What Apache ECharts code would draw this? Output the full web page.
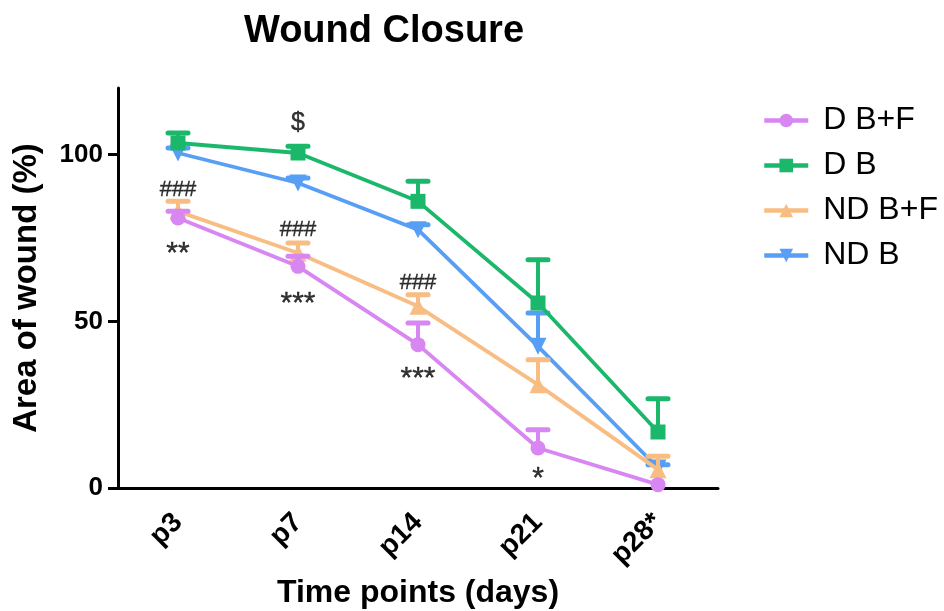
<!DOCTYPE html>
<html><head><meta charset="utf-8">
<script src="https://cdn.jsdelivr.net/npm/echarts@6/dist/echarts.min.js"></script>
<style>html,body{margin:0;padding:0;background:#fff}#c{width:944px;height:611px}</style>
</head><body><div id="c"></div>
<script>
// ---- data ----
const categories = ['p3', 'p7', 'p14', 'p21', 'p28'];
const tickLabels = ['p3', 'p7', 'p14', 'p21', 'p28*'];
const yTicks = [0, 50, 100];
const seriesNames = ['D B+F', 'D B', 'ND B+F', 'ND B'];
const dBF     = [81, 66.5, 43, 12, 1];
const dBF_err = [2, 3, 6.5, 5.5, 0];
const dB      = [103.5, 100.5, 86, 55.5, 16.8];
const dB_err  = [3, 2, 6, 13, 10];
const ndBF     = [83, 70.5, 54.5, 31, 5.5];
const ndBF_err = [3, 3, 3.5, 7.5, 4];
const ndB      = [100.5, 91.5, 77.5, 42.5, 6];
const ndB_err  = [1.5, 1.5, 1.5, 10, 1];
const annoText = ['$', '###', '###', '###', '**', '***', '***', '*'];
const annoCat  = ['p7', 'p3', 'p7', 'p14', 'p3', 'p7', 'p14', 'p21'];
const annoVal  = [109.5, 89.5, 77.5, 61.5, 72.3, 57.3, 34.8, 4.8];

// ---- styling ----
const FONT = "'Liberation Sans', Arial, Helvetica, sans-serif";
const colors = { 'D B+F': '#d886f2', 'D B': '#1bb86c', 'ND B+F': '#f8bd82', 'ND B': '#579ff5' };
const symbols = { 'D B+F': 'circle', 'D B': 'rect', 'ND B+F': 'triangle', 'ND B': 'triangle' };
const rotates = { 'D B+F': 0, 'D B': 0, 'ND B+F': 0, 'ND B': 180 };
const sizes = { 'D B+F': 15, 'D B': 15, 'ND B+F': 17, 'ND B': 17 };
const dataMap = {
  'D B+F': [dBF, dBF_err], 'D B': [dB, dB_err], 'ND B+F': [ndBF, ndBF_err], 'ND B': [ndB, ndB_err]
};
const drawOrder = ['ND B', 'ND B+F', 'D B', 'D B+F'];

function lineSeries(name, z) {
  return {
    type: 'line', name: name, data: dataMap[name][0], z: z,
    symbol: symbols[name], symbolSize: sizes[name], symbolRotate: rotates[name],
    showAllSymbol: true,
    lineStyle: { color: colors[name], width: 3.8 },
    itemStyle: { color: colors[name] },
    emphasis: { disabled: true }, animation: false
  };
}
function errSeries(name, z) {
  const vals = dataMap[name][0], errs = dataMap[name][1], color = colors[name];
  return {
    type: 'custom', name: name + ' (SEM)', z: z, silent: true, animation: false,
    data: vals.map((v, i) => [i, v, v + errs[i]]),
    renderItem: function (params, api) {
      const x = api.value(0);
      const p0 = api.coord([x, api.value(1)]);
      const p1 = api.coord([x, api.value(2)]);
      if (api.value(2) - api.value(1) <= 0) return { type: 'group', children: [] };
      const hw = 10;
      return { type: 'group', children: [
        { type: 'line', shape: { x1: p0[0], y1: p0[1], x2: p1[0], y2: p1[1] }, style: { stroke: color, lineWidth: 4 } },
        { type: 'line', shape: { x1: p1[0] - hw, y1: p1[1], x2: p1[0] + hw, y2: p1[1] }, style: { stroke: color, lineWidth: 5, lineCap: 'round' } }
      ] };
    }
  };
}

const series = [];
drawOrder.forEach((n, k) => { series.push(errSeries(n, 2 + k * 2)); series.push(lineSeries(n, 3 + k * 2)); });

series.push({
  type: 'scatter', name: 'annotations', symbolSize: 0, silent: true, z: 20, animation: false,
  data: annoText.map((t, i) => {
    const star = t.indexOf('*') >= 0;
    return {
      value: [annoCat[i], annoVal[i], t],
      label: {
        show: true, position: 'inside', formatter: p => p.value[2],
        color: '#000', fontFamily: FONT,
        textBorderColor: '#000', textBorderWidth: 0.4,
        fontSize: star ? 30 : (t === '$' ? 25 : 22),
        offset: [0, star ? 7 : 0]
      }
    };
  })
});

const chart = echarts.init(document.getElementById('c'), null, { renderer: 'canvas' });
chart.setOption({
  backgroundColor: '#fff',
  animation: false,
  graphic: [{
    type: 'text', x: 384, y: 32,
    style: { text: 'Wound Closure', font: 'bold 38px ' + FONT, fill: '#000', align: 'center', verticalAlign: 'middle' }
  }],
  legend: {
    orient: 'vertical', left: 757, top: 99,
    data: seriesNames,
    itemWidth: 44, itemHeight: 17, itemGap: 12,
    lineStyle: { width: 4.5 },
    textStyle: { fontSize: 32, fontFamily: FONT, color: '#000', lineHeight: 33, padding: [0, 0, 0, 10] },
    selectedMode: false
  },
  grid: { left: 118, top: 88, width: 600, height: 400, containLabel: false, outerBoundsMode: 'none' },
  xAxis: {
    type: 'category', data: categories, boundaryGap: true,
    name: 'Time points (days)', nameLocation: 'middle', nameGap: 86,
    nameTextStyle: { fontSize: 32, fontWeight: 'bold', fontFamily: FONT, color: '#000' },
    axisLine: { lineStyle: { color: '#000', width: 3 } },
    axisTick: { alignWithLabel: true, length: 12, lineStyle: { color: '#000', width: 3 } },
    axisLabel: {
      rotate: 45, margin: 30, fontSize: 28, fontWeight: 'bold', fontFamily: FONT, color: '#000',
      formatter: (v, i) => tickLabels[i]
    },
    splitLine: { show: false }
  },
  yAxis: {
    type: 'value', min: 0, max: 120,
    name: 'Area of wound (%)', nameLocation: 'middle', nameGap: 75,
    nameTextStyle: { fontSize: 33, fontWeight: 'bold', fontFamily: FONT, color: '#000' },
    axisLine: { show: true, lineStyle: { color: '#000', width: 3 } },
    axisTick: { show: true, length: 10, customValues: yTicks, lineStyle: { color: '#000', width: 3 } },
    axisLabel: { customValues: yTicks, margin: 15, fontSize: 26, fontWeight: 'bold', fontFamily: FONT, color: '#000' },
    splitLine: { show: false }
  },
  series: series
});
</script>
</body></html>
